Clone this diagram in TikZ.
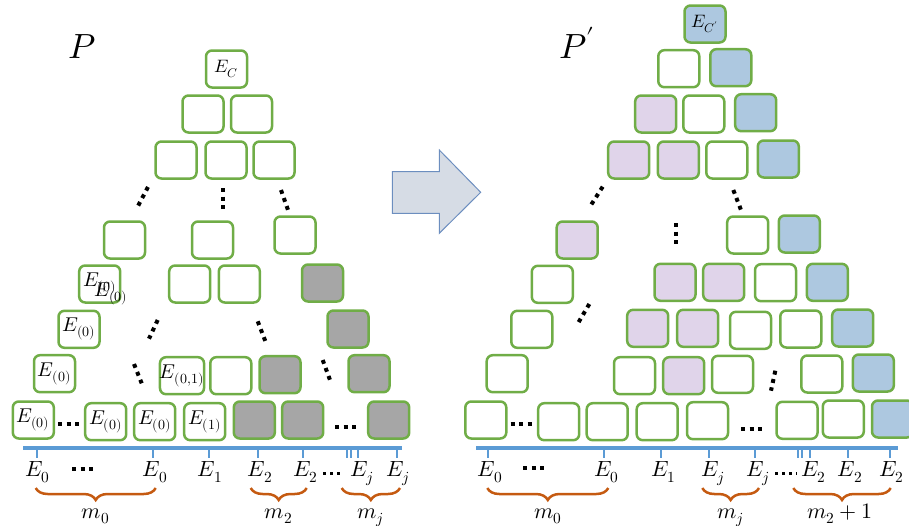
\documentclass[tikz,border=0pt]{standalone}
\usepackage{unicode-math}
\usetikzlibrary{decorations.pathreplacing}
\definecolor{gr}{HTML}{70AD47}
\definecolor{gy}{HTML}{A6A6A6}
\definecolor{bl}{HTML}{ADC8E0}
\definecolor{pu}{HTML}{E0D4EA}
\definecolor{ax}{HTML}{5B9BD5}
\definecolor{br}{HTML}{C55A11}
\definecolor{arf}{HTML}{D6DCE5}
\definecolor{ard}{HTML}{6C8EBF}
\tikzset{
 cell/.style={draw=gr, line width=2.5pt, rounded corners=6pt, minimum width=41pt, minimum height=37pt, inner sep=0pt, fill=white, font=\fontsize{20}{22}\selectfont},
 gcell/.style={cell, fill=gy},
 bcell/.style={cell, fill=bl},
 pcell/.style={cell, fill=pu},
 small/.style={font=\fontsize{18}{20}\selectfont},
 lbl/.style={inner sep=0pt, font=\fontsize{20}{22}\selectfont},
 axl/.style={anchor=base, inner sep=0pt, font=\fontsize{22}{24}\selectfont},
 ttl/.style={anchor=base west, inner sep=0pt, font=\fontsize{35}{40}\selectfont},
 dotline/.style={line width=4pt, dash pattern=on 4pt off 4.5pt},
 sdotline/.style={line width=3pt, dash pattern=on 3pt off 4pt},
 axisline/.style={draw=ax, line width=4pt},
 axtick/.style={draw=ax, line width=2pt},
 brc/.style={draw=br, line width=2.5pt, decorate, decoration={brace, amplitude=12pt, mirror}},
}
\begin{document}
\begin{tikzpicture}[x=1pt,y=-1pt]
\useasboundingbox (0,0) rectangle (909,525);
\clip (0,0) rectangle (909,525);
% titles
\node[ttl] (tP) at (68,58) {$P$};
\node[ttl] (tPp) at (559,58) {$P'$};
% arrow
\draw[draw=ard, fill=arf, line width=1pt] (392.3,171.7) -- (439.3,171.7) -- (439.3,150) -- (480.7,192.3) -- (439.3,233.3) -- (439.3,213.3) -- (392.3,213.3) -- cycle;
% ---------- left triangle P ----------
\node[cell, small] (a0) at (226.5,69) {$E_C$};
\node[cell] (a1) at (203,114) {};
\node[cell] (a2) at (251.5,114) {};
\node[cell] (a3) at (176,160) {};
\node[cell] (a4) at (226,160) {};
\node[cell] (a5) at (274,160) {};
\node[cell] (a6) at (124.5,240) {};
\node[cell] (a7) at (212.5,240) {};
\node[cell] (a8) at (295,235) {};
\node[cell] (a9) at (99.7,284) {$E_{(0)}$};
\node[lbl] (a9b) at (111,294) {$E_{(0)}$};
\node[cell] (a10) at (189.7,284) {};
\node[cell] (a11) at (239.3,284) {};
\node[gcell] (a12) at (322.5,283) {};
\node[cell] (a13) at (79,329.3) {$E_{(0)}$};
\node[gcell] (a14) at (348,329) {};
\node[cell] (a15) at (54.5,373.7) {$E_{(0)}$};
\node[cell] (a16) at (182,375.7) {$E_{(0,1)}$};
\node[cell] (a17) at (230.8,375.7) {};
\node[gcell] (a18) at (280,374.7) {};
\node[gcell] (a19) at (369,373.7) {};
\node[cell] (a20) at (33.3,420) {$E_{(0)}$};
\node[cell] (a21) at (105.7,421.7) {$E_{(0)}$};
\node[cell] (a22) at (154.7,421.7) {$E_{(0)}$};
\node[cell] (a23) at (204.7,421.7) {$E_{(1)}$};
\node[gcell] (a24) at (254.3,420) {};
\node[gcell] (a25) at (302.7,420) {};
\node[gcell] (a26) at (388.7,420) {};
% dots left
\draw[dotline] (148,187) -- (138,206);
\draw[dotline] (223,188) -- (223,209);
\draw[dotline] (281,190) -- (288,210);
\draw[dotline] (157.7,320) -- (149,338.7);
\draw[dotline] (257.7,321.3) -- (265.3,341);
\draw[dotline] (134,364) -- (141.7,383.3);
\draw[dotline] (322.7,360) -- (330,380);
\draw[dotline] (58,424) -- (81,424);
\draw[dotline] (335,427) -- (357.7,427);
% axis left
\draw[axisline] (23.3,448) -- (401.7,448);
\foreach \x in {36.7,152.7,209,257.7,303.3,346.7,350.7,357.7,396.7}
  \draw[axtick] (\x,448) -- (\x,458);
\node[axl] (l1) at (37.7,476.7) {$E_0$};
\node[axl] (l2) at (155,476.7) {$E_0$};
\node[axl] (l3) at (210,476.7) {$E_1$};
\node[axl] (l4) at (260,476.7) {$E_2$};
\node[axl] (l5) at (305.7,476.7) {$E_2$};
\node[axl] (l6) at (361.7,476.7) {$E_j$};
\node[axl] (l7) at (397.7,476.7) {$E_j$};
\draw[dotline] (72,469) -- (95,469);
\draw[sdotline] (323,473) -- (340,473);
\draw[brc] (35.7,488) -- (155.7,488);
\draw[brc] (250.7,488) -- (306.7,488);
\draw[brc] (341.7,488) -- (400,488);
\node[axl] (m1) at (95.7,518) {$m_0$};
\node[axl] (m2) at (278.7,518) {$m_2$};
\node[axl] (m3) at (370.8,518) {$m_j$};
% ---------- right triangle P' ----------
\node[bcell, small] (b0) at (705,24) {$E_{C'}$};
\node[cell] (b1) at (678.8,68.7) {};
\node[bcell] (b2) at (730.8,67.7) {};
\node[pcell] (b3) at (655.7,114) {};
\node[cell] (b4) at (703.8,114) {};
\node[bcell] (b5) at (755.7,112.7) {};
\node[pcell] (b6) at (628.7,160) {};
\node[pcell] (b7) at (678.3,160) {};
\node[cell] (b8) at (726.8,160) {};
\node[bcell] (b9) at (778.3,159) {};
\node[pcell] (b10) at (577.2,240) {};
\node[cell] (b11) at (747.7,235) {};
\node[bcell] (b12) at (799.3,234) {};
\node[cell] (b13) at (552.3,284.3) {};
\node[pcell] (b14) at (675,282.3) {};
\node[pcell] (b15) at (723.7,282.3) {};
\node[cell] (b16) at (775.5,282.7) {};
\node[bcell] (b17) at (827.3,282.3) {};
\node[cell] (b18) at (531.8,329.3) {};
\node[pcell] (b19) at (647.7,328.3) {};
\node[pcell] (b20) at (697.7,328.3) {};
\node[cell] (b21) at (750.5,330.3) {};
\node[cell] (b22) at (800.8,329) {};
\node[bcell] (b23) at (852.7,328) {};
\node[cell] (b24) at (507.2,373.7) {};
\node[cell] (b25) at (634.5,375.7) {};
\node[pcell] (b26) at (683.7,375.7) {};
\node[cell] (b27) at (732.5,374.3) {};
\node[cell] (b28) at (821.8,374) {};
\node[bcell] (b29) at (873.3,373) {};
\node[cell] (b30) at (485.8,420) {};
\node[cell] (b31) at (558.7,421.7) {};
\node[cell] (b32) at (607.2,421.7) {};
\node[cell] (b33) at (657.2,421.7) {};
\node[cell] (b34) at (707.5,420.7) {};
\node[cell] (b35) at (797,420.3) {};
\node[cell] (b36) at (843.3,419) {};
\node[bcell] (b37) at (892.5,419) {};
% dots right
\draw[dotline] (602.7,186.7) -- (591,205);
\draw[dotline] (733.3,190) -- (741,210);
\draw[dotline] (675.7,223) -- (675.7,245);
\draw[dotline] (589.3,304) -- (578.3,322.7);
\draw[dotline] (775.3,370.7) -- (771,390.7);
\draw[dotline] (510.7,424) -- (533.3,424);
\draw[dotline] (741,428.7) -- (763.3,428.7);
% axis right
\draw[axisline] (476,448) -- (898.3,448);
\foreach \x in {488.3,604.3,660.7,709.3,755,798.3,801.7,810,848.3,890}
  \draw[axtick] (\x,448) -- (\x,458);
\node[axl] (r1) at (490,476.7) {$E_0$};
\node[axl] (r2) at (606.7,476.7) {$E_0$};
\node[axl] (r3) at (663.3,476.7) {$E_1$};
\node[axl] (r4) at (713.3,476.7) {$E_j$};
\node[axl] (r5) at (758.3,476.7) {$E_j$};
\node[axl] (r6) at (813.3,476.7) {$E_2$};
\node[axl] (r7) at (850,476.7) {$E_2$};
\node[axl] (r8) at (891.7,476.7) {$E_2$};
\draw[dotline] (523.3,468.3) -- (546.7,468.3);
\draw[sdotline] (775,473) -- (797,473);
\draw[brc] (487.3,488) -- (608.3,488);
\draw[brc] (702.3,488) -- (759,488);
\draw[brc] (793.3,488) -- (890.7,488);
\node[axl] (n1) at (547.8,518) {$m_0$};
\node[axl] (n2) at (730.7,518) {$m_j$};
\node[axl] (n3) at (840,518) {$m_2+1$};
\end{tikzpicture}
\end{document}
